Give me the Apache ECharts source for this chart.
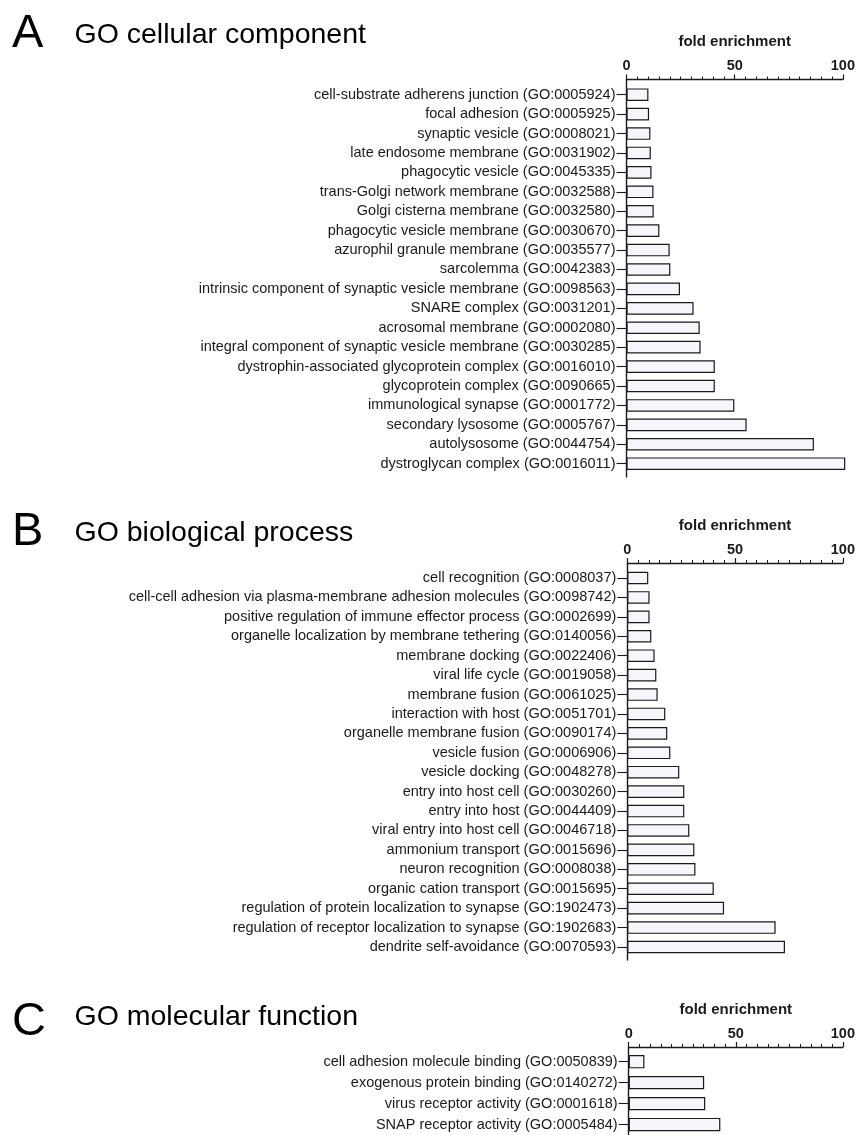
<!DOCTYPE html>
<html>
<head>
<meta charset="utf-8">
<script src="https://cdn.jsdelivr.net/npm/echarts@6/dist/echarts.min.js"></script>
<style>
html,body{margin:0;padding:0;background:#fff;}
#chart{width:858px;height:1135px;}
</style>
</head>
<body>
<div id="chart"></div>
<script>
const xTicks = [0, 50, 100];
const axisName = 'fold enrichment';

const panelLetters = ['A', 'B', 'C'];
const panelTitles = ['GO cellular component', 'GO biological process', 'GO molecular function'];

const ccTerms = [
  'cell-substrate adherens junction (GO:0005924)',
  'focal adhesion (GO:0005925)',
  'synaptic vesicle (GO:0008021)',
  'late endosome membrane (GO:0031902)',
  'phagocytic vesicle (GO:0045335)',
  'trans-Golgi network membrane (GO:0032588)',
  'Golgi cisterna membrane (GO:0032580)',
  'phagocytic vesicle membrane (GO:0030670)',
  'azurophil granule membrane (GO:0035577)',
  'sarcolemma (GO:0042383)',
  'intrinsic component of synaptic vesicle membrane (GO:0098563)',
  'SNARE complex (GO:0031201)',
  'acrosomal membrane (GO:0002080)',
  'integral component of synaptic vesicle membrane (GO:0030285)',
  'dystrophin-associated glycoprotein complex (GO:0016010)',
  'glycoprotein complex (GO:0090665)',
  'immunological synapse (GO:0001772)',
  'secondary lysosome (GO:0005767)',
  'autolysosome (GO:0044754)',
  'dystroglycan complex (GO:0016011)'
];
const ccFold = [10.0, 10.3, 10.9, 11.1, 11.4, 12.3, 12.4, 15.0, 19.7, 20.0,
                24.4, 30.6, 33.4, 33.8, 40.3, 40.3, 49.2, 54.8, 85.5, 99.8];

const bpTerms = [
  'cell recognition (GO:0008037)',
  'cell-cell adhesion via plasma-membrane adhesion molecules (GO:0098742)',
  'positive regulation of immune effector process (GO:0002699)',
  'organelle localization by membrane tethering (GO:0140056)',
  'membrane docking (GO:0022406)',
  'viral life cycle (GO:0019058)',
  'membrane fusion (GO:0061025)',
  'interaction with host (GO:0051701)',
  'organelle membrane fusion (GO:0090174)',
  'vesicle fusion (GO:0006906)',
  'vesicle docking (GO:0048278)',
  'entry into host cell (GO:0030260)',
  'entry into host (GO:0044409)',
  'viral entry into host cell (GO:0046718)',
  'ammonium transport (GO:0015696)',
  'neuron recognition (GO:0008038)',
  'organic cation transport (GO:0015695)',
  'regulation of protein localization to synapse (GO:1902473)',
  'regulation of receptor localization to synapse (GO:1902683)',
  'dendrite self-avoidance (GO:0070593)'
];
const bpFold = [9.6, 10.2, 10.2, 11.0, 12.5, 13.3, 13.9, 17.4, 18.3, 19.7,
                23.8, 26.1, 26.1, 28.4, 30.7, 31.2, 39.6, 44.3, 67.9, 72.2];

const mfTerms = [
  'cell adhesion molecule binding (GO:0050839)',
  'exogenous protein binding (GO:0140272)',
  'virus receptor activity (GO:0001618)',
  'SNAP receptor activity (GO:0005484)'
];
const mfFold = [7.3, 35.0, 35.5, 42.5];

const FONT = '"Liberation Sans", Arial, Helvetica, sans-serif';
const INK = '#1a1a1a';

// layout per panel (pixels)
const panels = [
  { terms: ccTerms, vals: ccFold, left: 626.5, width: 219.2, axisTop: 79.5, axisH: 397.5, barTop: 85.0, band: 19.42, barW: 12.6,
    letterY: 34, titleY: 35 },
  { terms: bpTerms, vals: bpFold, left: 627.3, width: 218.4, axisTop: 563, axisH: 397, barTop: 568.3, band: 19.42, barW: 12.6,
    letterY: 532, titleY: 533 },
  { terms: mfTerms, vals: mfFold, left: 628.7, width: 215.6, axisTop: 1047, axisH: 100, barTop: 1051.2, band: 21.7, barW: 13.3,
    letterY: 1022, titleY: 1017.5 }
];

const grids = [], xAxes = [], yAxes = [], series = [], titleGraphics = [];

panels.forEach((p, i) => {
  const gAxis = grids.length;
  // grid carrying the visible top value axis and the vertical axis line
  grids.push({ left: p.left, width: p.width, top: p.axisTop, height: p.axisH, containLabel: false });
  const gBar = grids.length;
  // grid carrying the bars and the category labels
  grids.push({ left: p.left, width: p.width, top: p.barTop, height: p.band * p.terms.length, containLabel: false });

  xAxes.push({
    gridIndex: gAxis, type: 'value', position: 'top',
    min: xTicks[0], max: xTicks[xTicks.length - 1], interval: xTicks[1] - xTicks[0],
    name: axisName, nameLocation: 'middle', nameGap: 30,
    nameTextStyle: { fontFamily: FONT, fontWeight: 'bold', fontSize: 15, color: INK },
    axisLine: { show: true, onZero: false, lineStyle: { color: INK, width: 1.4 } },
    axisTick: { show: true, inside: false, length: 5, lineStyle: { color: INK, width: 1.2 } },
    minorTick: { show: true, splitNumber: 10, length: 3, lineStyle: { color: INK, width: 1 } },
    axisLabel: { show: true, margin: 6, fontFamily: FONT, fontWeight: 'bold', fontSize: 14.5, color: INK },
    splitLine: { show: false }
  });
  yAxes.push({
    gridIndex: gAxis, type: 'value', position: 'left', min: 0, max: 1,
    axisLine: { show: true, onZero: false, lineStyle: { color: INK, width: 1.4 } },
    axisTick: { show: false }, axisLabel: { show: false }, splitLine: { show: false }
  });

  xAxes.push({
    gridIndex: gBar, type: 'value', show: false,
    min: xTicks[0], max: xTicks[xTicks.length - 1], splitLine: { show: false }
  });
  yAxes.push({
    gridIndex: gBar, type: 'category', inverse: true, data: p.terms,
    axisLine: { show: false },
    axisTick: { show: true, alignWithLabel: true, length: 10, lineStyle: { color: INK, width: 1.1 } },
    axisLabel: { show: true, margin: 11, fontFamily: FONT, fontSize: 14.5, color: INK, interval: 0 },
    splitLine: { show: false }
  });

  series.push({
    type: 'bar', xAxisIndex: xAxes.length - 1, yAxisIndex: yAxes.length - 1,
    data: p.vals, barWidth: p.barW, silent: true, animation: false,
    itemStyle: { color: '#f6f7fc', borderColor: INK, borderWidth: 1.2 }
  });

  titleGraphics.push({
    type: 'text', x: 12, y: p.letterY, z: 10,
    style: { text: panelLetters[i], fontFamily: FONT, fontSize: 47, fill: '#000', verticalAlign: 'middle', align: 'left' }
  });
  titleGraphics.push({
    type: 'text', x: 74.5, y: p.titleY, z: 10,
    style: { text: panelTitles[i], fontFamily: FONT, fontSize: 28.5, fill: '#000', verticalAlign: 'middle', align: 'left' }
  });
});

const chart = echarts.init(document.getElementById('chart'), null, { renderer: 'canvas' });
chart.setOption({
  animation: false,
  backgroundColor: '#ffffff',
  grid: grids,
  xAxis: xAxes,
  yAxis: yAxes,
  series: series,
  graphic: titleGraphics
});
</script>
</body>
</html>
